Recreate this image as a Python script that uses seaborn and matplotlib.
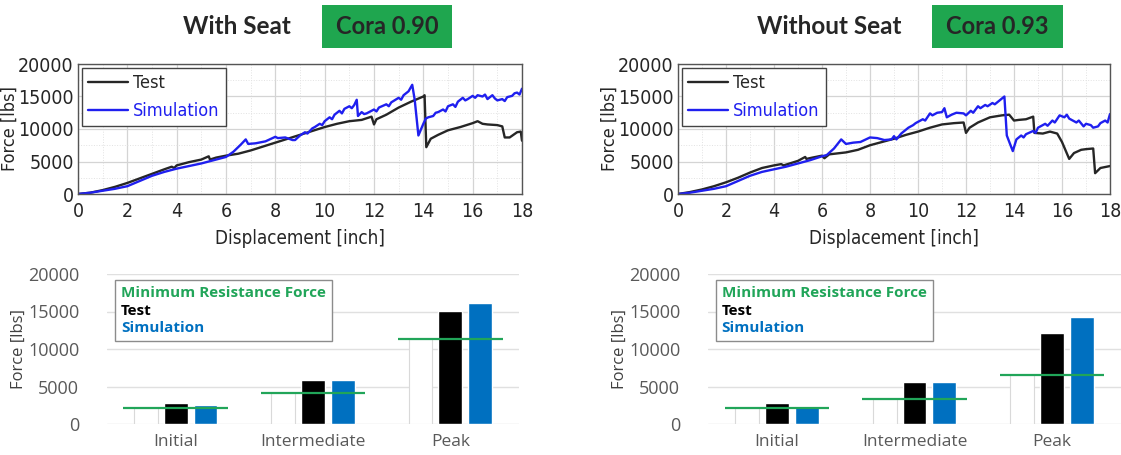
import numpy as np
import pandas as pd
import seaborn as sns
import matplotlib.pyplot as plt
from matplotlib.lines import Line2D
from matplotlib.patches import Rectangle
from matplotlib.ticker import MultipleLocator

sns.set_style("white")
plt.rcParams["font.family"] = ["DejaVu Sans"]

# ---- force vs displacement curves ----
seat_test_x = [0, 0.5, 1, 1.5, 2, 2.5, 3, 3.5, 3.8, 3.9, 4.0, 4.5, 5.0, 5.3, 5.35, 5.6, 6.0, 6.5, 7.0, 7.5,
               8.0, 8.5, 9.0, 9.5, 10.0, 10.5, 11.0, 11.5, 11.9, 12.0, 12.1, 12.5, 13.0, 13.5, 14.0, 14.05,
               14.12, 14.3, 14.6, 15.0, 15.5, 16.0, 16.2, 16.4, 16.6, 17.0, 17.2, 17.3, 17.5, 17.8, 17.95, 18.0]
seat_test_y = [0, 200, 600, 1100, 1700, 2400, 3100, 3800, 4200, 4000, 4400, 4900, 5300, 5800, 5300, 5600,
               5900, 6200, 6700, 7300, 7900, 8500, 9100, 9700, 10300, 10800, 11200, 11400, 11900, 10700,
               11500, 12200, 13300, 14200, 15000, 15200, 7200, 8500, 9100, 9800, 10300, 10900, 11200, 10800,
               10700, 10600, 10400, 8700, 8700, 9500, 9600, 8200]
seat_sim_x = [0, 0.5, 1, 1.5, 2, 2.5, 3, 3.5, 4, 4.5, 5, 5.5, 6, 6.3, 6.6, 6.8, 6.9, 7.2, 7.6, 8.0, 8.1,
              8.4, 8.7, 8.8, 9.0, 9.2, 9.3, 9.5, 9.6, 9.8, 9.9, 10.0, 10.2, 10.3, 10.4, 10.6, 10.7, 10.8,
              11.0, 11.1, 11.2, 11.3, 11.35, 11.5, 11.6, 11.7, 12.0, 12.1, 12.2, 12.5, 12.6, 12.7, 13.0,
              13.1, 13.2, 13.4, 13.55, 13.65, 13.8, 14.0, 14.1, 14.2, 14.4, 14.5, 14.6, 14.8, 14.9, 15.0,
              15.2, 15.3, 15.4, 15.6, 15.7, 15.8, 16.0, 16.1, 16.2, 16.4, 16.5, 16.6, 16.8, 16.9, 17.0,
              17.2, 17.3, 17.4, 17.6, 17.7, 17.8, 17.9, 18.0]
seat_sim_y = [0, 200, 500, 800, 1200, 2000, 2800, 3400, 3900, 4300, 4700, 5200, 5700, 6500, 7600, 8400,
              7700, 7800, 8100, 8800, 8600, 8700, 8300, 8300, 9000, 9500, 9300, 10100, 10300, 10800,
              10600, 11200, 11800, 11500, 12200, 12800, 12400, 13100, 13500, 13200, 13700, 14500, 12000,
              12600, 12300, 12400, 13000, 12700, 13300, 13800, 13500, 14100, 14800, 14500, 15200, 15800,
              16800, 14500, 9000, 10800, 11600, 11800, 12000, 12500, 12600, 13000, 12700, 13500, 13800,
              13400, 14200, 14800, 14400, 14600, 15100, 14800, 15200, 15000, 15300, 14600, 15200, 14700,
              14400, 14600, 14300, 14900, 15100, 15500, 15600, 15300, 16200]

noseat_test_x = [0, 0.5, 1, 1.5, 2, 2.5, 3, 3.5, 4, 4.3, 4.4, 5, 5.3, 5.35, 5.6, 6, 6.1, 6.3, 7, 7.5, 8,
                 8.5, 9, 9.5, 10, 10.5, 11, 11.5, 11.9, 12.0, 12.15, 12.5, 13, 13.5, 13.8, 14.0, 14.2,
                 14.5, 14.8, 14.85, 15.2, 15.5, 15.8, 16.0, 16.3, 16.5, 16.8, 17.0, 17.3, 17.38, 17.6, 18.0]
noseat_test_y = [0, 300, 700, 1200, 1800, 2500, 3300, 4000, 4400, 4600, 4400, 5100, 5700, 5400, 5600,
                 5900, 5500, 6100, 6400, 6800, 7500, 8000, 8500, 9100, 9600, 10200, 10700, 10900, 11000,
                 9400, 10200, 11000, 11800, 12100, 12200, 11300, 11400, 11500, 11900, 9400, 9300, 9600,
                 9300, 8000, 5400, 6300, 6800, 6900, 7000, 3200, 4000, 4300]
noseat_sim_x = [0, 0.5, 1, 1.5, 2, 2.5, 3, 3.5, 4, 4.5, 5, 5.5, 6, 6.2, 6.5, 6.8, 7.0, 7.3, 7.6, 8.0, 8.3,
                8.6, 8.9, 9.0, 9.1, 9.3, 9.6, 9.8, 9.9, 10.2, 10.3, 10.5, 10.6, 10.8, 11.0, 11.1, 11.2,
                11.4, 11.6, 11.9, 12.0, 12.2, 12.3, 12.5, 12.6, 12.8, 12.9, 13.1, 13.2, 13.4, 13.6, 13.7,
                13.95, 14.1, 14.3, 14.4, 14.5, 14.8, 14.9, 15.0, 15.3, 15.4, 15.6, 15.7, 15.9, 16.1, 16.2,
                16.3, 16.6, 16.7, 16.9, 17.0, 17.2, 17.3, 17.5, 17.6, 17.8, 17.9, 18.0]
noseat_sim_y = [0, 200, 500, 800, 1200, 2000, 2800, 3400, 3800, 4200, 4700, 5200, 5800, 6000, 7000, 8400,
                7700, 7900, 8000, 8700, 8600, 8300, 8400, 8900, 8400, 9300, 10200, 10600, 10900, 11500,
                11300, 12400, 12100, 12500, 12600, 13200, 11800, 12200, 12500, 12400, 12100, 12800, 12500,
                13500, 13200, 13700, 13500, 14000, 13800, 14400, 15000, 9000, 6600, 8400, 9000, 8700,
                9200, 9700, 9400, 10200, 10800, 10500, 11300, 11000, 12100, 11800, 12200, 11600, 11000,
                11300, 10400, 10800, 10600, 10200, 10400, 10900, 11300, 11000, 12300]

# ---- bar chart values ----
phases = ["Initial", "Intermediate", "Peak"]
seat_min = [2100, 4200, 11300]
seat_test = [2800, 5900, 15100]
seat_sim = [2500, 5900, 16200]
noseat_min = [2200, 3300, 6500]
noseat_test = [2800, 5600, 12100]
noseat_sim = [2400, 5600, 14300]

titles = ["With Seat", "Without Seat"]
cora = ["Cora 0.90", "Cora 0.93"]

GREEN = "#21a559"
BAR_BLUE = "#0070c0"
LINE_BLUE = "#1f1fef"
OFFICE_FONT = ["Open Sans", "DejaVu Sans"]

fig = plt.figure(figsize=(11.21, 4.55), dpi=100)
W, H = 1121, 455


def px_axes(x0, y0, x1, y1):
    return fig.add_axes([x0 / W, 1 - y1 / H, (x1 - x0) / W, (y1 - y0) / H])


def label_x(ax, px):
    # axes-fraction x for a y label whose right edge sits at figure pixel px
    pos = ax.get_position()
    return (px / W - pos.x0) / pos.width


def line_panel(ax, tx, ty, sx, sy):
    df = pd.concat([
        pd.DataFrame({"disp": tx, "force": ty, "series": "Test"}),
        pd.DataFrame({"disp": sx, "force": sy, "series": "Simulation"}),
    ])
    sns.lineplot(data=df, x="disp", y="force", hue="series", estimator=None, sort=False,
                 palette={"Test": "#262626", "Simulation": LINE_BLUE}, ax=ax, linewidth=1.7)
    ax.set_xlim(0, 18)
    ax.set_ylim(0, 20000)
    ax.xaxis.set_major_locator(MultipleLocator(2))
    ax.yaxis.set_major_locator(MultipleLocator(5000))
    ax.xaxis.set_minor_locator(MultipleLocator(1))
    ax.yaxis.set_minor_locator(MultipleLocator(2500))
    ax.grid(True, which="major", color="#d4d4d4", lw=0.9)
    ax.grid(True, which="minor", color="#e2e2e2", lw=0.7, ls=":")
    ax.tick_params(labelsize=14, length=0)
    ax.tick_params(axis="x", pad=6)
    ax.tick_params(axis="y", pad=3)
    for lab in ax.get_xticklabels() + ax.get_yticklabels():
        lab.set_stretch("condensed")
    for s in ax.spines.values():
        s.set_color("#555555")
        s.set_linewidth(1.0)
    ax.set_xlabel("Displacement [inch]", fontsize=13.5, stretch="condensed")
    ax.set_ylabel("Force [lbs]", fontsize=13, stretch="condensed")
    ax.xaxis.set_label_coords(0.5, -0.27)
    ax.yaxis.set_label_coords(label_x(ax, ax.get_position().x0 * W - 59), 0.5)
    leg = ax.legend(loc="upper left", title=None, handlelength=2.2,
                    handletextpad=0.3, labelspacing=0.55, borderaxespad=0.2,
                    fancybox=False, edgecolor="#444444", framealpha=1, labelcolor="linecolor",
                    borderpad=0.35, prop={"size": 13, "stretch": "condensed"})
    leg.get_frame().set_linewidth(1.0)


def bar_panel(ax, mins, test, sim):
    df = pd.DataFrame({
        "phase": phases * 3,
        "series": ["Minimum"] * 3 + ["Test"] * 3 + ["Simulation"] * 3,
        "force": mins + test + sim,
    })
    sns.barplot(data=df, x="phase", y="force", hue="series", order=phases,
                hue_order=["Minimum", "Test", "Simulation"],
                palette={"Minimum": "white", "Test": "black", "Simulation": BAR_BLUE},
                width=0.65, gap=0.2, ax=ax, legend=False, saturation=1)
    for patch in ax.containers[0]:
        patch.set_edgecolor("#d9d9d9")
        patch.set_linewidth(0.8)
    idx = np.arange(len(phases))
    ax.hlines(mins, idx - 0.38, idx + 0.38, color=GREEN, lw=1.6, zorder=5)
    ax.set_xlim(-0.5, 2.5)
    ax.set_ylim(0, 20000)
    ax.yaxis.set_major_locator(MultipleLocator(5000))
    ax.grid(True, axis="y", color="#e0e0e0", lw=1.0)
    ax.set_axisbelow(True)
    sns.despine(ax=ax, left=True, bottom=True)
    ax.tick_params(length=0, labelcolor="#595959")
    ax.tick_params(axis="x", pad=7, labelsize=12.5)
    ax.tick_params(axis="y", pad=20, labelsize=13)
    for lab in ax.get_xticklabels() + ax.get_yticklabels():
        lab.set_family(OFFICE_FONT)
    ax.set_xlabel("")
    ax.set_ylabel("Force [lbs]", fontsize=12, color="#404040", family=OFFICE_FONT)
    handles = [Line2D([], [], alpha=0) for _ in range(3)]
    leg = ax.legend(handles, ["Minimum Resistance Force", "Test", "Simulation"],
                    loc="upper left", bbox_to_anchor=(0.0, 1.01), handlelength=0, handletextpad=0,
                    labelcolor=[GREEN, "black", BAR_BLUE], labelspacing=0.22, borderpad=0.4,
                    fancybox=False, edgecolor="#8c8c8c", framealpha=1,
                    prop={"family": OFFICE_FONT, "weight": "bold", "size": 11})
    leg.get_frame().set_linewidth(1.0)


ax_l1 = px_axes(78, 64, 522, 194)
ax_l2 = px_axes(678, 64, 1110, 194)
line_panel(ax_l1, seat_test_x, seat_test_y, seat_sim_x, seat_sim_y)
line_panel(ax_l2, noseat_test_x, noseat_test_y, noseat_sim_x, noseat_sim_y)

ax_b1 = px_axes(107, 274, 519, 424)
ax_b2 = px_axes(708, 274, 1121, 424)
bar_panel(ax_b1, seat_min, seat_test, seat_sim)
bar_panel(ax_b2, noseat_min, noseat_test, noseat_sim)
ax_b1.yaxis.set_label_coords(label_x(ax_b1, 27), 0.5)
ax_b2.yaxis.set_label_coords(label_x(ax_b2, 628), 0.5)

# headers with green Cora boxes
for title, score, tx, bx0, bx1 in [(titles[0], cora[0], 237, 322, 452), (titles[1], cora[1], 829, 932, 1063)]:
    fig.text(tx / W, 1 - 27 / H, title, ha="center", va="center", fontsize=17.5,
             fontweight="bold", family=["Lato", "DejaVu Sans"])
    fig.patches.append(Rectangle((bx0 / W, 1 - 48 / H), (bx1 - bx0) / W, 43 / H,
                                 transform=fig.transFigure, facecolor="#1fa64f", edgecolor="none"))
    fig.text((bx0 + bx1) / 2 / W, 1 - 27 / H, score, ha="center", va="center", fontsize=17,
             fontweight="bold", family=["Lato", "DejaVu Sans"])

fig.savefig("out.png", dpi=100)
